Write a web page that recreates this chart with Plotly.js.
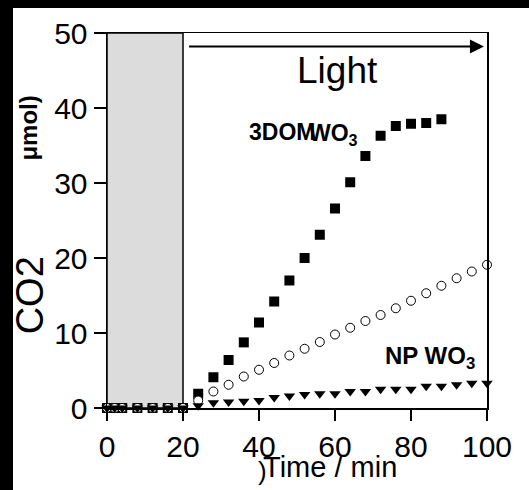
<!DOCTYPE html>
<html>
<head>
<meta charset="utf-8">
<script src="https://cdn.plot.ly/plotly-3.0.1.min.js"></script>
<style>
html,body{margin:0;padding:0;background:#000;width:529px;height:490px;overflow:hidden;}
#chart{position:absolute;left:13px;top:8px;width:516px;height:482px;background:#fff;}
</style>
</head>
<body>
<div id="chart"></div>
<script>
// Time (min)
const darkTimes = [0, 2, 4, 8, 12, 16, 20];
const lightTimesA = [24, 28, 32, 36, 40, 44, 48, 52, 56, 60, 64, 68, 72, 76, 80, 84, 88];
const lightTimesB = [24, 28, 32, 36, 40, 44, 48, 52, 56, 60, 64, 68, 72, 76, 80, 84, 88, 92, 96, 100];

// CO2 (µmol)
const dark3DOM = [0, 0, 0, 0, 0, 0, 0];
const light3DOM = [1.9, 4.1, 6.4, 8.75, 11.4, 14.2, 17.0, 20.0, 23.1, 26.6, 30.1, 33.6, 36.3, 37.6, 37.9, 38.0, 38.5];
const darkOpen = [0, 0, 0, 0, 0, 0, 0];
const lightOpen = [1.0, 2.2, 3.1, 4.2, 5.1, 6.0, 7.0, 7.9, 8.8, 9.8, 10.7, 11.6, 12.4, 13.3, 14.3, 15.3, 16.3, 17.3, 18.2, 19.1];
const darkNP = [0, 0, 0, 0, 0, 0, 0];
const lightNP = [0.3, 0.7, 0.8, 0.9, 1.0, 1.4, 1.6, 1.8, 1.9, 1.9, 2.2, 2.2, 2.5, 2.5, 2.5, 2.9, 2.9, 3.1, 3.3, 3.3];

const xTicks = [0, 20, 40, 60, 80, 100];
const yTicks = [0, 10, 20, 30, 40, 50];
const darkPeriod = [0, 20];

const FONT = 'Arial, "Liberation Sans", sans-serif';

const traces = [
  {x: darkTimes.concat(lightTimesA), y: dark3DOM.concat(light3DOM), mode: 'markers', type: 'scatter', cliponaxis: false,
   marker: {symbol: 'square', size: 10, color: '#000'}},
  {x: darkTimes.concat(lightTimesB), y: darkOpen.concat(lightOpen), mode: 'markers', type: 'scatter', cliponaxis: false,
   marker: {symbol: 'circle', size: 9, color: '#fff', line: {color: '#000', width: 1}}},
  {x: darkTimes.concat(lightTimesB), y: darkNP.concat(lightNP), mode: 'markers', type: 'scatter', cliponaxis: false,
   marker: {symbol: 'triangle-down', size: 10, color: '#000'}}
];

const layout = {
  width: 516, height: 482,
  margin: {l: 94.3, r: 41.7, t: 25.3, b: 81.7},
  paper_bgcolor: '#fff', plot_bgcolor: '#fff',
  showlegend: false,
  font: {family: FONT, color: '#000'},
  xaxis: {range: [0, 100], tickvals: xTicks, ticktext: xTicks.map(String),
    showgrid: false, zeroline: false, showline: true, mirror: true, linecolor: '#000', linewidth: 1.5,
    ticks: 'outside', ticklen: 11, tickwidth: 1.5, tickcolor: '#000',
    tickfont: {family: FONT, size: 30, color: '#000'}},
  yaxis: {range: [0, 50], tickvals: yTicks, ticktext: yTicks.map(String),
    showgrid: false, zeroline: false, showline: true, mirror: true, linecolor: '#000', linewidth: 1.5,
    ticks: 'outside', ticklen: 12, tickwidth: 1.5, tickcolor: '#000',
    tickfont: {family: FONT, size: 30, color: '#000'}},
  shapes: [
    {type: 'rect', xref: 'x', yref: 'y', x0: darkPeriod[0], x1: darkPeriod[1], y0: 0, y1: 50,
     fillcolor: '#dcdcdc', line: {color: '#000', width: 1.5}, layer: 'below'}
  ],
  annotations: [
    {xref: 'x', yref: 'y', axref: 'x', ayref: 'y', x: 99.2, y: 48.2, ax: 21.2, ay: 48.2,
     text: '', showarrow: true, arrowhead: 2, arrowsize: 1.4, arrowwidth: 2, arrowcolor: '#000'},
    {xref: 'x', yref: 'y', x: 60.7, y: 45.0, text: 'Light', showarrow: false,
     font: {family: FONT, size: 37, color: '#000'}, xanchor: 'center', yanchor: 'middle'},
    {xref: 'x', yref: 'y', x: 36.8, y: 36.8, text: '<b>3DOM</b>', showarrow: false,
     font: {family: FONT, size: 23, color: '#000'}, xanchor: 'left', yanchor: 'middle'},
    {xref: 'x', yref: 'y', x: 52.6, y: 36.5, text: '<b>WO<sub>3</sub></b>', showarrow: false,
     font: {family: FONT, size: 23, color: '#000'}, xanchor: 'left', yanchor: 'middle'},
    {xref: 'x', yref: 'y', x: 72.6, y: 6.7, text: '<b>NP WO<sub>3</sub></b>', showarrow: false,
     font: {family: FONT, size: 24, color: '#000'}, xanchor: 'left', yanchor: 'middle'},
    {xref: 'x', yref: 'paper', x: 58.8, y: -0.157, text: 'Time / min', showarrow: false,
     font: {family: FONT, size: 29, color: '#000'}, xanchor: 'center', yanchor: 'middle'},
    {xref: 'x', yref: 'paper', x: 40.8, y: -0.168, text: ')', showarrow: false,
     font: {family: FONT, size: 26, color: '#000'}, xanchor: 'center', yanchor: 'middle'},
    {xref: 'paper', yref: 'y', x: -0.203, y: 15.0, text: 'CO2', textangle: -90, showarrow: false,
     font: {family: FONT, size: 38, color: '#000'}, xanchor: 'center', yanchor: 'middle'},
    {xref: 'paper', yref: 'y', x: -0.207, y: 37.3, text: '<b>μmol)</b>', textangle: -90, showarrow: false,
     font: {family: FONT, size: 24, color: '#000'}, xanchor: 'center', yanchor: 'middle'}
  ]
};

Plotly.newPlot('chart', traces, layout, {displayModeBar: false, staticPlot: true});
</script>
</body>
</html>
